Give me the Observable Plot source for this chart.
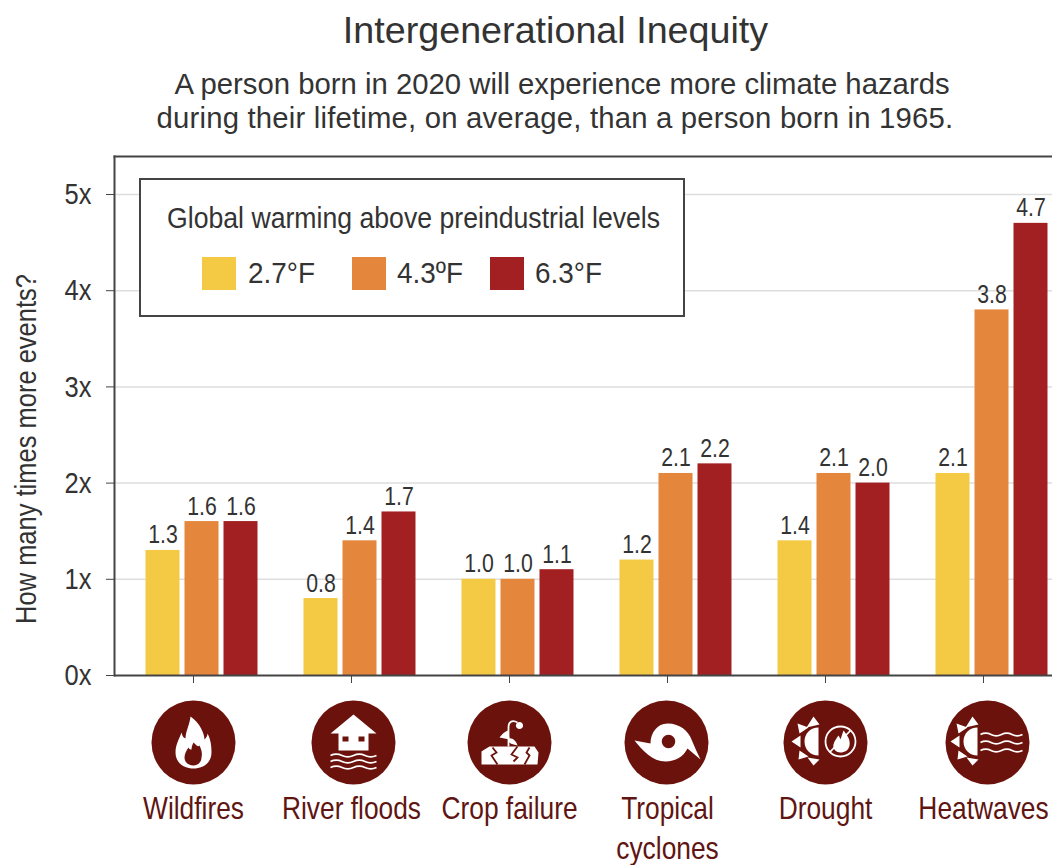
<!DOCTYPE html>
<html>
<head>
<meta charset="utf-8">
<script src="https://cdn.jsdelivr.net/npm/d3@7"></script>
<script src="https://cdn.jsdelivr.net/npm/@observablehq/plot@0.6"></script>
<style>
  html, body { margin: 0; padding: 0; background: #fff; overflow: hidden; }
  body { width: 1052px; height: 865px; position: relative; font-family: "Liberation Sans", Arial, sans-serif; color: #333; }
  #title { position: absolute; left: 0; right: 0; top: 8px; text-align: center; font-size: 37.7px; line-height: 44px; margin-left: 59px; }
  #subtitle { position: absolute; left: 0; right: 0; top: 67px; text-align: center; font-size: 29.3px; line-height: 34px; margin-left: 64px; white-space: nowrap; }
  #subtitle span { position: relative; display: block; }
  #subtitle .first { left: 4px; }
  #subtitle .second { left: -3px; letter-spacing: 0.19px; }
  #chart { position: absolute; left: 0; top: 150px; }
  #legend { position: absolute; left: 139px; top: 178px; width: 546px; height: 139px; box-sizing: border-box; border: 2px solid #444; background: #fff; }
  #legend .head { position: absolute; left: 26px; top: 20px; font-size: 30px; line-height: 36px; white-space: nowrap; transform: scaleX(0.888); transform-origin: left center; }
  #legend .swatch { position: absolute; top: 77px; width: 34px; height: 33px; }
  #legend .lab { position: absolute; top: 75px; font-size: 30px; line-height: 36px; white-space: nowrap; transform: scaleX(0.93); transform-origin: left center; }
</style>
</head>
<body>
<div id="title">Intergenerational Inequity</div>
<div id="subtitle"><span class="first">A person born in 2020 will experience more climate hazards</span><span class="second">during their lifetime, on average, than a person born in 1965.</span></div>
<div id="chart"></div>
<div id="legend"></div>
<script>
const hazards = ["Wildfires", "River floods", "Crop failure", "Tropical\ncyclones", "Drought", "Heatwaves"];
const scenarios = ["2.7°F", "4.3ºF", "6.3°F"];
const colors = ["#f4ca45", "#e4873d", "#a32022"];
const warming27 = [1.3, 0.8, 1.0, 1.2, 1.4, 2.1];
const warming43 = [1.6, 1.4, 1.0, 2.1, 2.1, 3.8];
const warming63 = [1.6, 1.7, 1.1, 2.2, 2.0, 4.7];
const yTicks = [0, 1, 2, 3, 4, 5];
const gridTicks = [1, 2, 3, 4, 5];

const rows = [warming27, warming43, warming63].flatMap((series, s) =>
  series.map((value, h) => ({hazard: hazards[h], scenario: scenarios[s], value}))
);

const iconColor = "#6b120c";
const labelColor = "#5f1512";
const inkColor = "#333";
const barShift = 8.5;

// Replays a small path string (M, L, Q, C, Z) on the context a symbol is given.
function pathSymbol(d) {
  return {
    draw(ctx) {
      const tokens = d.trim().split(/\s+/);
      for (let i = 0; i < tokens.length;) {
        const op = tokens[i++];
        const n = {M: 2, L: 2, Q: 4, C: 6, Z: 0}[op];
        const a = tokens.slice(i, i + n).map(Number);
        i += n;
        if (op === "M") ctx.moveTo(...a);
        else if (op === "L") ctx.lineTo(...a);
        else if (op === "Q") ctx.quadraticCurveTo(...a);
        else if (op === "C") ctx.bezierCurveTo(...a);
        else ctx.closePath();
      }
    }
  };
}

// A wavy line from x0 to x1 at height y, used for water and heat shimmer.
function wave(x0, x1, y, cycles) {
  const step = (x1 - x0) / (cycles * 2);
  let d = `M ${x0} ${y}`;
  for (let k = 0; k < cycles * 2; k++) {
    const sign = k % 2 ? 2.6 : -2.6;
    d += ` Q ${x0 + step * (k + 0.5)} ${y + sign} ${x0 + step * (k + 1)} ${y}`;
  }
  return d;
}

function ring(cx, cy, r) {
  const k = r * 0.5523;
  return `M ${cx - r} ${cy} C ${cx - r} ${cy - k} ${cx - k} ${cy - r} ${cx} ${cy - r} ` +
    `C ${cx + k} ${cy - r} ${cx + r} ${cy - k} ${cx + r} ${cy} ` +
    `C ${cx + r} ${cy + k} ${cx + k} ${cy + r} ${cx} ${cy + r} ` +
    `C ${cx - k} ${cy + r} ${cx - r} ${cy + k} ${cx - r} ${cy} Z`;
}

function sun(dx) {
  const t = (pts) => "M " + pts.map(([x, y]) => `${x + dx} ${y}`).join(" L ") + " Z";
  return [
    `M ${-7 + dx} -15 C ${-15 + dx} -15 ${-21 + dx} -9 ${-21 + dx} -1 C ${-21 + dx} 7 ${-15 + dx} 13 ${-7 + dx} 13 Z`,
    t([[-12, -26], [-19, -15], [-6, -18]]),
    t([[-28, -19], [-26, -9], [-17, -15]]),
    t([[-34, -1], [-25, -7], [-25, 5]]),
    t([[-27, 17], [-26, 8], [-17, 14]]),
    t([[-12, 23], [-18, 15], [-6, 17]])
  ].join(" ");
}

// Each hazard badge: white shapes, dark details on top, and thin strokes.
const icons = [
  {
    hazard: hazards[0], dx: 0,
    white: "M -3 -26 C 6 -20 11 -9 11 -3 C 13 -5 14 -7 14 -9 C 18 -2 18 7 18 10 C 18 20 10 26 0 26 C -10 26 -18 20 -18 10 C -18 2 -14 -4 -12 -10 C -11 -6 -10 -5 -8 -4 C -8 -11 -4 -17 -3 -26 Z",
    dark: "M 0 0 C 3 3 5 5 6 3 C 8 7 9 11 8 15 C 8 20 4 23 0 23 C -5 23 -9 20 -9 15 C -9 11 -7 8 -5 5 C -4 7 -3 7 -2 7 C -2 4 -1 2 0 0 Z",
    line: "", darkLine: ""
  },
  {
    hazard: hazards[1], dx: 2,
    white: "M 0 -28 L 23 -9 L 15 -9 L 15 8 L -15 8 L -15 -9 L -23 -9 Z",
    dark: "M -11 -6 L -5 -6 L -5 -1 L -11 -1 Z M 5 -6 L 11 -6 L 11 -1 L 5 -1 Z",
    line: [13, 19, 25].map(y => wave(-23, 23, y, 2)).join(" "), darkLine: ""
  },
  {
    hazard: hazards[2], dx: 0,
    white: "M -25 7 L -20 4 L 25 4 L 29 10 L 28 22 L -28 22 L -28 9 Z " + ring(10, -17, 3.6) +
      " M -10 -5 C -6 -10 -3 -12 -1 -12 L 0 -3 Z M -1 -4 C 3 -5 7 -1 8 3 C 4 2 0 1 -1 -1 Z",
    dark: "",
    line: "M -1 4 L -1 -15 C -1 -21 3 -23 8 -20",
    darkLine: "M -17 5 L -13 10 L -18 13 L -12 22 M 8 4 L 2 12 L 8 15 L 4 19 M 20 5 L 17 10 L 20 13 L 15 22"
  },
  {
    hazard: hazards[3], dx: -1,
    white: "M -32 -2 L -16 1 C -16 -10 -9 -19 1 -19 C 14 -19 22 -11 25 -3 C 28 4 31 11 34 17 L 21 6 C 17 14 9 19 -1 19 C -14 19 -24 8 -32 -2 Z",
    dark: ring(2, -1, 6.7),
    line: "", darkLine: ""
  },
  {
    hazard: hazards[4], dx: 0,
    white: sun(0) + " M 18 -12 C 22 -7 25 -3 24 3 C 23 8 19 10 15 10 C 10 10 7 6 8 2 C 9 -2 11 -4 13 -7 C 14 -5 15 -4 15 -3 C 16 -6 17 -9 18 -12 Z",
    dark: "",
    line: ring(15, -1, 15) + " M 5 9 L 25 -12",
    darkLine: ""
  },
  {
    hazard: hazards[5], dx: 4,
    white: sun(-3),
    dark: "",
    line: [-8, 0, 8].map(y => wave(-7, 35, y, 2)).join(" "), darkLine: ""
  }
];

const iconBelow = 67;
const iconBase = {fx: d => d.hazard, frameAnchor: "bottom", dy: iconBelow};
const iconMarks = icons.flatMap(icon => {
  const one = [icon];
  const layers = [
    Plot.dot(one, {...iconBase, dx: icon.dx, r: 42, fill: iconColor}),
    Plot.dot(one, {...iconBase, dx: icon.dx, symbol: pathSymbol(icon.white), fill: "#fff"})
  ];
  if (icon.line) layers.push(Plot.dot(one, {...iconBase, dx: icon.dx, symbol: pathSymbol(icon.line), fill: "none", stroke: "#fff", strokeWidth: 1.8}));
  if (icon.dark) layers.push(Plot.dot(one, {...iconBase, dx: icon.dx, symbol: pathSymbol(icon.dark), fill: iconColor}));
  if (icon.darkLine) layers.push(Plot.dot(one, {...iconBase, dx: icon.dx, symbol: pathSymbol(icon.darkLine), fill: "none", stroke: iconColor, strokeWidth: 1.8}));
  return layers;
});

const chart = Plot.plot({
  width: 1052,
  height: 715,
  marginTop: 6,
  marginBottom: 190,
  marginLeft: 113,
  marginRight: -10,
  style: {fontFamily: '"Liberation Sans", sans-serif', color: inkColor, background: "transparent"},
  fx: {domain: hazards, padding: 0, label: null},
  x: {domain: scenarios, paddingInner: 0.125, paddingOuter: 0.57, axis: null},
  y: {domain: [0, 5.395], label: null},
  color: {domain: scenarios, range: colors},
  marks: [
    Plot.ruleY(gridTicks, {stroke: "#dedede", strokeWidth: 1.5}),
    Plot.barY(rows, {fx: "hazard", x: "scenario", y: "value", fill: "scenario", dx: barShift}),
    Plot.text(rows, {
      fx: "hazard", x: "scenario", y: "value", text: d => d3.format(".1f")(d.value),
      dx: barShift, dy: -7, lineAnchor: "bottom", fontSize: 25, fill: inkColor
    }),
    Plot.frame({anchor: "left", facet: "super", stroke: "#444", strokeWidth: 2}),
    Plot.frame({anchor: "top", facet: "super", stroke: "#444", strokeWidth: 2}),
    Plot.ruleY([0], {stroke: "#444", strokeWidth: 2}),
    Plot.axisY({
      ticks: yTicks, tickFormat: d => `${d}x`, tickSize: 8, tickPadding: 15,
      fontSize: 30, label: null, stroke: "#444", fill: inkColor
    }),
    Plot.axisFx({
      anchor: "bottom", tickSize: 8, tickPadding: 107, fontSize: 31, lineHeight: 1.29,
      label: null, stroke: "#444", fill: labelColor
    }),
    Plot.text(["How many times more events?"], {
      facet: "super", frameAnchor: "left", textAnchor: "middle", rotate: -90, dx: -88, dy: 33, fontSize: 30, fill: inkColor
    }),
    ...iconMarks
  ]
});
document.getElementById("chart").append(chart);

// The chart's lettering is set narrow: squeeze each text along its own baseline.
chart.querySelectorAll("text").forEach(t => {
  t.setAttribute("transform", `${t.getAttribute("transform") || ""} scale(0.85,1)`.trim());
});

// Inset key for the three warming levels.
const legend = d3.select("#legend");
legend.append("div").attr("class", "head").text("Global warming above preindustrial levels");
const swatchLefts = [61, 211, 349];
const labelLefts = [107, 256, 394];
scenarios.forEach((s, i) => {
  legend.append("div").attr("class", "swatch").style("left", swatchLefts[i] + "px").style("background", colors[i]);
  legend.append("div").attr("class", "lab").style("left", labelLefts[i] + "px").text(s);
});
</script>
</body>
</html>
